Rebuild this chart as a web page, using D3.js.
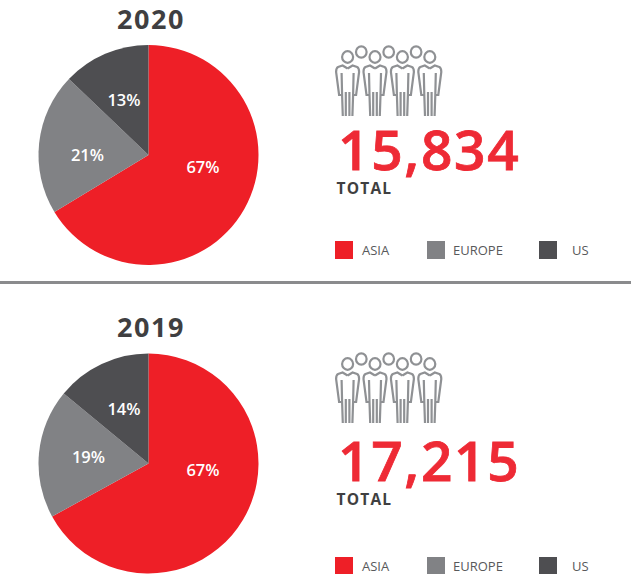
<!DOCTYPE html>
<html>
<head>
<meta charset="utf-8">
<script src="https://cdn.jsdelivr.net/npm/d3@7"></script>
<style>
  html, body { margin: 0; padding: 0; background: #fff; }
  svg { display: block; }
  text { font-family: "Open Sans", "Noto Sans", sans-serif; }
</style>
</head>
<body>
<div id="chart"></div>
<script>
const years = ['2020', '2019'];
const regions = ['ASIA', 'EUROPE', 'US'];
const shares2020 = [67, 21, 13];
const shares2019 = [67, 19, 14];
const totals = ['15,834', '17,215'];
const peopleIcons = 4;

const colors = d3.scaleOrdinal().domain(regions).range(['#ee1f27', '#818285', '#4e4e51']);

// vertical anchors per panel, the lower panel does not repeat the same offsets
// labels are hand placed in the original so they are not on the arc centroids
const panels = [
    {
        year: years[0], shares: shares2020, total: totals[0],
        titleY: 29, cy: 155, iconY: 0, totalY: 169.5, labelY: 194, legendY: 250,
        labelOffsets: [[54.5, 12], [-61, 0], [-24.5, -55]]
    },
    {
        year: years[1], shares: shares2019, total: totals[1],
        titleY: 337, cy: 463.5, iconY: 307, totalY: 480.5, labelY: 505, legendY: 566,
        labelOffsets: [[54.5, 7], [-60, -6], [-24.5, -54.5]]
    }
];

const svg = d3.select('#chart').append('svg')
    .attr('width', 631)
    .attr('height', 574);

svg.append('rect')
    .attr('x', 0).attr('y', 281)
    .attr('width', 631).attr('height', 3)
    .attr('fill', '#8a8b8d');

const pie = d3.pie().sort(null).value(d => d.value);
const arc = d3.arc().innerRadius(0).outerRadius(110);

function drawPerson(g, x) {
    const line = d3.path();
    // one half of the outline, mirrored for the other side
    [-1, 1].forEach(s => {
        line.moveTo(x, 68.5);
        line.lineTo(x + s * 5, 65.5);
        line.lineTo(x + s * 9.5, 67);
        line.quadraticCurveTo(x + s * 11.5, 68, x + s * 11.5, 72);
        line.lineTo(x + s * 8.5, 95);
        line.lineTo(x + s * 5.5, 95);
        line.moveTo(x + s * 6, 73);
        line.lineTo(x + s * 5.5, 95);
        line.lineTo(x + s * 4.8, 116);
        line.moveTo(x + s * 1.8, 116);
        line.lineTo(x + s * 1.8, 92);
    });
    g.append('path').attr('d', line.toString());
    g.append('ellipse').attr('cx', x).attr('cy', 57).attr('rx', 5.5).attr('ry', 5.8);
}

function drawPeople(g) {
    g.attr('fill', 'none')
        .attr('stroke', '#8f9194')
        .attr('stroke-width', 2.2);
    const xScale = d3.scaleLinear().domain([0, 1]).range([347.6, 375]);
    d3.range(peopleIcons).forEach(i => drawPerson(g, xScale(i)));
    d3.range(peopleIcons - 1).forEach(i => {
        g.append('ellipse')
            .attr('cx', xScale(i + 0.5))
            .attr('cy', 52)
            .attr('rx', 5.3).attr('ry', 5.6);
    });
}

panels.forEach(p => {
    const g = svg.append('g');

    g.append('text')
        .attr('x', 151).attr('y', p.titleY)
        .attr('text-anchor', 'middle')
        .attr('font-size', 27).attr('font-weight', 700)
        .attr('letter-spacing', 1.5)
        .attr('fill', '#3f3f41')
        .text(p.year);

    const data = pie(regions.map((r, i) => ({ region: r, value: p.shares[i] })));
    const pieG = g.append('g').attr('transform', `translate(148.5,${p.cy})`);

    pieG.selectAll('path').data(data).join('path')
        .attr('d', arc)
        .attr('fill', d => colors(d.data.region));

    pieG.selectAll('text').data(data).join('text')
        .attr('transform', (d, i) => `translate(${p.labelOffsets[i]})`)
        .attr('text-anchor', 'middle')
        .attr('dy', '0.36em')
        .attr('font-size', 16.5).attr('font-weight', 600)
        .attr('fill', '#fff')
        .text(d => d.data.value + '%');

    drawPeople(g.append('g').attr('transform', `translate(0,${p.iconY})`));

    // thin stroke because the 600 weight is lighter than the original digits
    g.append('text')
        .attr('x', 338).attr('y', p.totalY)
        .attr('font-size', 55).attr('font-weight', 600)
        .attr('letter-spacing', 1.7)
        .attr('fill', '#ee2a35')
        .attr('stroke', '#ee2a35')
        .attr('stroke-width', 0.8)
        .text(p.total);

    g.append('text')
        .attr('x', 336.5).attr('y', p.labelY)
        .attr('font-size', 15.5).attr('font-weight', 700)
        .attr('letter-spacing', 1.2)
        .attr('fill', '#3f3f41')
        .text('TOTAL');

    const legendX = d3.scaleOrdinal().domain(regions).range([335, 427, 539]);
    const legendTextX = d3.scaleOrdinal().domain(regions).range([362, 453, 572]);
    const legend = g.selectAll('g.legend').data(regions).join('g').attr('class', 'legend');
    legend.append('rect')
        .attr('x', d => legendX(d)).attr('y', p.legendY - 9)
        .attr('width', 18).attr('height', 18)
        .attr('fill', d => colors(d));
    legend.append('text')
        .attr('x', d => legendTextX(d)).attr('y', p.legendY + 5)
        .attr('font-size', 13)
        .attr('fill', '#58595b')
        .text(d => d);
});
</script>
</body>
</html>
